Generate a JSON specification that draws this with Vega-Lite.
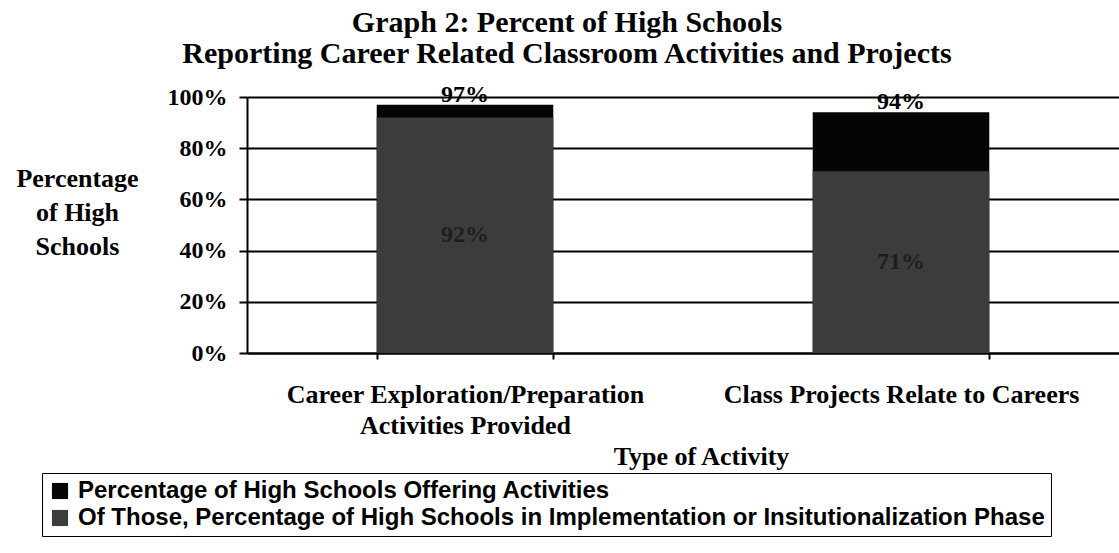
{
  "$schema": "https://vega.github.io/schema/vega-lite/v6.json",
  "autosize": {"type": "none"},
  "width": 872,
  "height": 256,
  "padding": {"left": 247, "top": 97, "right": 0, "bottom": 200},
  "background": "white",
  "title": {
    "text": ["Graph 2: Percent of High Schools", "Reporting Career Related Classroom Activities and Projects"],
    "font": "Liberation Serif",
    "fontSize": 30,
    "fontWeight": "bold",
    "color": "black",
    "anchor": "middle",
    "dx": -116,
    "offset": 14,
    "lineHeight": 31
  },
  "config": {
    "view": {"stroke": null},
    "axis": {"labelColor": "black", "titleColor": "black"}
  },
  "data": {
    "values": [
      {"category": "Career Exploration/Preparation Activities Provided", "series": "Percentage of High Schools Offering Activities", "value": 97},
      {"category": "Class Projects Relate to Careers", "series": "Percentage of High Schools Offering Activities", "value": 94},
      {"category": "Career Exploration/Preparation Activities Provided", "series": "Of Those, Percentage of High Schools in Implementation or Insitutionalization Phase", "value": 92},
      {"category": "Class Projects Relate to Careers", "series": "Of Those, Percentage of High Schools in Implementation or Insitutionalization Phase", "value": 71}
    ]
  },
  "encoding": {
    "x": {
      "field": "category",
      "type": "nominal",
      "sort": null,
      "scale": {"paddingInner": 0.595, "paddingOuter": 0.2975},
      "axis": {
        "title": "Type of Activity",
        "titleFont": "Liberation Serif",
        "titleFontSize": 26,
        "titleFontWeight": "bold",
        "titleX": 454,
        "titleAlign": "center",
        "titlePadding": 5,
        "labelAngle": 0,
        "labelFont": "Liberation Serif",
        "labelFontSize": 26,
        "labelFontWeight": "bold",
        "labelPadding": 22,
        "labelLineHeight": 31,
        "labelLimit": 500,
        "labelExpr": "datum.value == 'Career Exploration/Preparation Activities Provided' ? ['Career Exploration/Preparation', 'Activities Provided'] : datum.label",
        "tickBand": "extent",
        "tickColor": "black",
        "tickSize": 6,
        "tickWidth": 2,
        "domainColor": "black",
        "domainWidth": 2,
        "grid": false
      }
    }
  },
  "layer": [
    {
      "mark": {"type": "bar"},
      "encoding": {
        "y": {
          "field": "value",
          "type": "quantitative",
          "stack": null,
          "scale": {"domain": [0, 100]},
          "axis": {
            "values": [0, 20, 40, 60, 80, 100],
            "labelExpr": "datum.value + '%'",
            "labelFont": "Liberation Serif",
            "labelFontSize": 24,
            "labelFontWeight": "bold",
            "labelPadding": 12,
            "tickColor": "black",
            "tickSize": 8,
            "tickWidth": 2,
            "domainColor": "black",
            "domainWidth": 2,
            "grid": true,
            "gridColor": "black",
            "gridWidth": 2,
            "gridOpacity": 1,
            "title": ["Percentage", "of High", "Schools"],
            "titleAngle": 0,
            "titleAlign": "center",
            "titleBaseline": "alphabetic",
            "titleX": -170,
            "titleY": 89,
            "titleFont": "Liberation Serif",
            "titleFontSize": 26,
            "titleFontWeight": "bold",
            "titleLineHeight": 34
          }
        },
        "color": {
          "field": "series",
          "type": "nominal",
          "sort": null,
          "scale": {
            "domain": ["Percentage of High Schools Offering Activities", "Of Those, Percentage of High Schools in Implementation or Insitutionalization Phase"],
            "range": ["#050505", "#3c3c3c"]
          },
          "legend": {
            "title": null,
            "orient": "none",
            "legendX": -205,
            "legendY": 376,
            "strokeColor": "black",
            "fillColor": "white",
            "padding": 6,
            "symbolType": "square",
            "symbolSize": 260,
            "symbolStrokeWidth": 0,
            "labelFont": "Liberation Sans",
            "labelFontSize": 24,
            "labelFontWeight": "bold",
            "labelColor": "black",
            "labelLimit": 1100,
            "labelOffset": 6,
            "rowPadding": 3
          }
        }
      }
    },
    {
      "transform": [{"filter": "datum.series == 'Percentage of High Schools Offering Activities'"}],
      "mark": {"type": "text", "baseline": "alphabetic", "dy": -3, "font": "Liberation Serif", "fontSize": 24, "fontWeight": "bold", "color": "black", "text": {"expr": "datum.value + '%'"}},
      "encoding": {
        "y": {"field": "value", "type": "quantitative", "scale": {"domain": [0, 100]}, "axis": null}
      }
    },
    {
      "transform": [{"filter": "datum.series != 'Percentage of High Schools Offering Activities'"}],
      "mark": {"type": "text", "baseline": "middle", "font": "Liberation Serif", "fontSize": 24, "fontWeight": "bold", "color": "#1e1e1e", "text": {"expr": "datum.value + '%'"}},
      "encoding": {
        "y": {"field": "value", "type": "quantitative", "scale": {"domain": [0, 200]}, "axis": null}
      }
    }
  ],
  "resolve": {"scale": {"y": "independent"}}
}
